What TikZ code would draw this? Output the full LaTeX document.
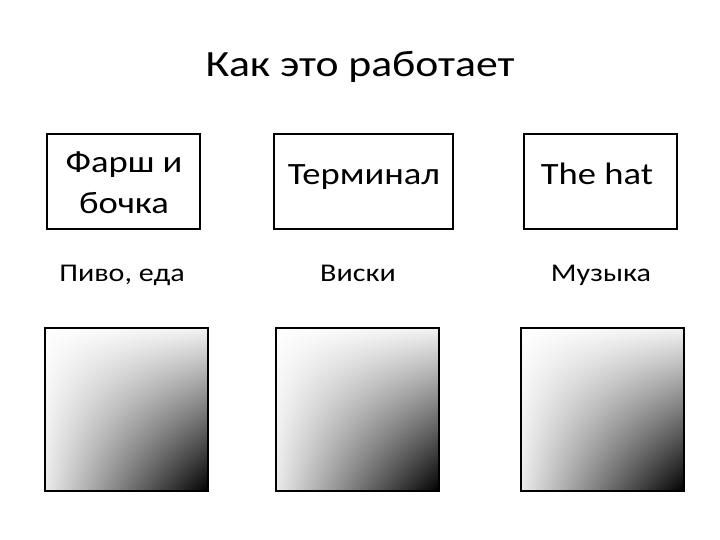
\documentclass[tikz,border=0pt]{standalone}
\usepackage{fontspec}
\setmainfont[FakeStretch=1.18]{Carlito}
\usetikzlibrary{shadings}
\begin{document}
\begin{tikzpicture}[x=1pt,y=-1pt,
  box/.style={draw=black,line width=2pt,minimum width=#1,minimum height=95pt,inner sep=0pt},
  btxt/.style={anchor=base,inner sep=0pt,align=center,font=\fontsize{31}{41}\selectfont},
  lbl/.style={anchor=base,font=\fontsize{25.5}{30}\selectfont,inner sep=0pt},
  sq/.style={draw=black,line width=1.3pt}]
\useasboundingbox (0,0) rectangle (720,540);
\fill[white] (0,0) rectangle (720,540);
\node[anchor=base,font=\fontsize{37}{44}\selectfont,inner sep=0pt] (title) at (360,77) {Как это работает};
\node[box=153pt] (b1) at (123.5,181.5) {};
\node[box=179pt] (b2) at (363.5,181.5) {};
\node[box=153pt] (b3) at (600.5,181.5) {};
\node[btxt] (t1a) at (124,173) {Фарш и};
\node[btxt] (t1b) at (124,214) {бочка};
\node[btxt] (t2) at (364,185) {Терминал};
\node[btxt] (t3) at (597,185) {The hat};
\node[lbl] (l1) at (122,281) {Пиво, еда};
\node[lbl] (l2) at (358,281) {Виски};
\node[lbl] (l3) at (601,281) {Музыка};
\foreach \x/\n in {45/s1,276/s2,521/s3}{
  \shade[upper left=white,upper right=gray!10,lower left=gray!16,lower right=black]
    (\x,328) rectangle ++(163,163);
  \draw[sq] (\x,328) rectangle ++(163,163);
}
\end{tikzpicture}
\end{document}
